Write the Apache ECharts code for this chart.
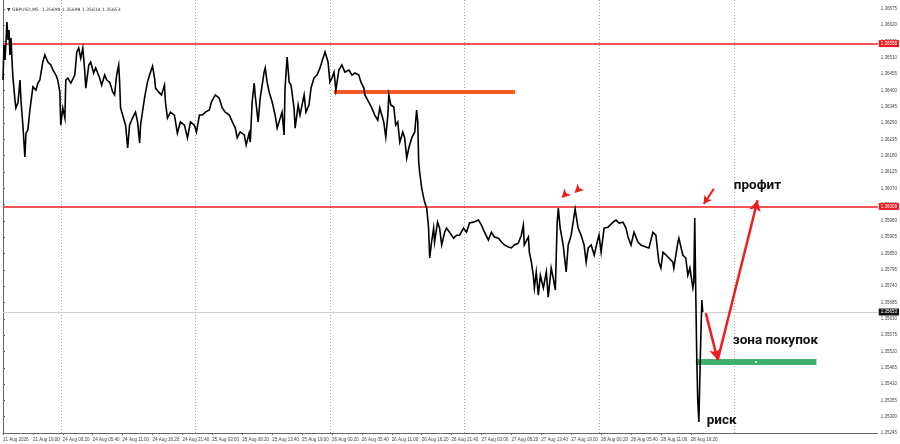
<!DOCTYPE html>
<html><head><meta charset="utf-8">
<script src="https://cdn.jsdelivr.net/npm/echarts@6/dist/echarts.min.js"></script>
<style>html,body{margin:0;padding:0;background:#fff}#c{width:900px;height:444px}</style>
</head><body><div id="c"></div>
<script>
// 20-minute bar index, counted from 21 Aug 13:40 (weekend skipped, as the terminal does)
const slotIdx = [0,0.5,1.1,2.1,2.7,3.2,3.7,4.3,4.8,5.3,6.4,6.9,8,9.1,9.6,10.7,11.7,12.3,13.3,14.4,16,17.6,18.7,19.7,21.3,22.4,24,25.6,26.7,28.3,29.3,30.4,30.9,32,33.1,33.6,34.7,36.3,37.3,38.4,39.5,40.5,41.6,42.7,43.7,44.3,45.9,46.9,48.5,49.6,51.7,52.8,54.4,55.5,57.1,58.7,59.7,60.8,61.9,62.4,62.9,64,65.6,66.7,67.7,69.3,70.9,72,73.1,73.6,75.7,77.3,78.4,80,81.1,81.6,83.2,84.8,86.4,86.9,88,89.6,91.7,93.3,94.9,97.1,98.7,100.3,102.4,103.5,105.1,106.7,108.3,110.4,111.5,113.6,115.7,117.3,118.9,121.1,122.7,124.3,125.3,126.9,129.1,130.1,131.7,132.3,133.3,134.4,134.9,136.5,137.6,139.7,140.3,141.3,142.4,144,145.6,146.7,147.7,149.3,150.4,150.9,152,153.1,154.1,155.7,156.3,157.9,158.9,161.1,162.1,163.7,164.8,166.4,168,169.6,171.2,172.3,173.9,174.9,176,177.1,178.1,179.7,181.3,182.9,185.1,186.7,188.3,190.4,191.5,193.1,193.6,195.7,197.3,198.9,200.5,201.6,203.7,204.8,205.9,206.4,207.5,209.1,210.1,211.2,212.3,213.9,214.9,216,217.1,218.7,220.3,221.3,221.9,222.4,222.9,224,225.1,225.6,226.7,227.7,228.3,229.3,230.4,230.9,232.5,233.6,234.7,236.3,237.3,238.9,241.1,242.7,244.3,246.4,248,249.6,251.7,254.4,256,257.6,259.7,261.3,262.9,265.1,266.7,268.3,270.4,272,273.6,275.7,277.3,278.4,278.9,281.1,281.6,282.7,283.7,284.3,285.3,286.4,287.5,289.1,290.7,291.7,293.3,294.4,295.5,296.5,297.1,298.1,299.7,300.3,301.3,302.4,304,305.6,306.1,307.7,309.3,310.9,312,313.1,314.7,316.3,317.9,318.9,320,321.6,323.7,326.4,328,329.6,331.7,333.3,334.4,336,337.6,339.7,341.3,344,345.6,347.7,349.3,350.9,352,353.1,354.7,356.3,358.4,358.9,361.1,361.6,363.7,365.3,366.4,367.5,369.1,369.6,370.1,370.7,371.2,371.7,372.3,372.8,373.3,373.9,374.4];
const prices = [1.36435,1.36553,1.36503,1.36631,1.36570,1.36604,1.36520,1.36577,1.36503,1.36445,1.36368,1.36341,1.36358,1.36435,1.36368,1.36277,1.36176,1.36256,1.36267,1.36334,1.36412,1.36401,1.36425,1.36435,1.36496,1.36520,1.36496,1.36486,1.36469,1.36452,1.36435,1.36395,1.36283,1.36341,1.36307,1.36435,1.36442,1.36425,1.36428,1.36452,1.36530,1.36543,1.36509,1.36543,1.36469,1.36408,1.36486,1.36496,1.36459,1.36476,1.36442,1.36418,1.36452,1.36435,1.36428,1.36395,1.36385,1.36452,1.36486,1.36428,1.36341,1.36317,1.36283,1.36206,1.36283,1.36307,1.36327,1.36294,1.36223,1.36283,1.36374,1.36428,1.36452,1.36482,1.36442,1.36408,1.36395,1.36385,1.36418,1.36361,1.36307,1.36327,1.36317,1.36256,1.36294,1.36283,1.36240,1.36294,1.36283,1.36260,1.36317,1.36317,1.36327,1.36334,1.36361,1.36385,1.36374,1.36341,1.36327,1.36317,1.36294,1.36273,1.36240,1.36260,1.36250,1.36216,1.36256,1.36226,1.36361,1.36425,1.36385,1.36294,1.36374,1.36462,1.36476,1.36428,1.36395,1.36361,1.36317,1.36273,1.36294,1.36327,1.36250,1.36408,1.36513,1.36428,1.36418,1.36341,1.36273,1.36351,1.36317,1.36385,1.36327,1.36351,1.36408,1.36442,1.36452,1.36476,1.36509,1.36530,1.36496,1.36428,1.36442,1.36462,1.36401,1.36469,1.36486,1.36462,1.36469,1.36452,1.36459,1.36452,1.36428,1.36408,1.36385,1.36361,1.36341,1.36317,1.36300,1.36341,1.36294,1.36243,1.36317,1.36385,1.36351,1.36344,1.36283,1.36294,1.36226,1.36260,1.36240,1.36172,1.36206,1.36240,1.36260,1.36334,1.36294,1.36159,1.36125,1.36071,1.36037,1.36024,1.36003,1.35936,1.35835,1.35889,1.35936,1.35889,1.35956,1.35936,1.35879,1.35922,1.35936,1.35922,1.35902,1.35912,1.35912,1.35936,1.35922,1.35953,1.35956,1.35963,1.35946,1.35922,1.35896,1.35922,1.35906,1.35902,1.35889,1.35879,1.35872,1.35869,1.35879,1.35885,1.35912,1.35946,1.35879,1.35906,1.35855,1.35821,1.35777,1.35734,1.35788,1.35710,1.35777,1.35734,1.35788,1.35703,1.35801,1.35767,1.35727,1.35956,1.36003,1.35936,1.35879,1.35845,1.35788,1.35879,1.35912,1.35980,1.36000,1.35936,1.35912,1.35879,1.35821,1.35869,1.35879,1.35845,1.35889,1.35912,1.35855,1.35936,1.35939,1.35956,1.35963,1.35953,1.35956,1.35936,1.35906,1.35879,1.35922,1.35889,1.35879,1.35872,1.35869,1.35922,1.35912,1.35821,1.35801,1.35855,1.35845,1.35835,1.35821,1.35801,1.35889,1.35902,1.35845,1.35835,1.35777,1.35801,1.35734,1.35754,1.35970,1.35693,1.35491,1.35356,1.35282,1.35423,1.35558,1.35693,1.35653];

const timeLabels = ["21 Aug 2026","21 Aug 19:00","24 Aug 00:20","24 Aug 05:40","24 Aug 11:00","24 Aug 16:20","24 Aug 21:40","25 Aug 03:00","25 Aug 08:20","25 Aug 13:40","25 Aug 19:00","26 Aug 00:20","26 Aug 05:40","26 Aug 11:00","26 Aug 16:20","26 Aug 21:40","27 Aug 03:00","27 Aug 08:20","27 Aug 13:40","27 Aug 19:00","28 Aug 00:20","28 Aug 05:40","28 Aug 11:00","28 Aug 16:20"];
const labelStep = 16;           // 5h20m in 20-minute bars
const daySeparators = [31, 103, 175, 247, 319, 391];   // 24..29 Aug 00:00
const priceMin = 1.35245, priceMax = 1.36705, priceStep = 0.00055;
const slotMax = 468;

const redLevels = [1.36558, 1.36009];
const bidPrice = 1.35653;
const headerText = "GBPUSD,M5  1.35698 1.35698 1.35614 1.35653";
const orangeLevel = [177, 274, 1.36396];     // from slot, to slot, price
const buyZone = [370.7, 435.2, 1.35484];
const vArrowPts = [[376, 1.35649], [382.4, 1.35491], [403.7, 1.36030]];
const pointerArrow = [[380.3, 1.36068], [374.9, 1.36017]];
const peakMarks = [[298.8, 1.36037], [305.8, 1.36054]];
const notes = [["профит", 391, 1.36078], ["зона покупок", 390.4, 1.35558], ["риск", 376.5, 1.35288]];

const RED = '#ee1c1c';
const tickSlots = timeLabels.map((_, i) => i * labelStep);
const axisFont = 'Liberation Sans';

function hLine(v, color, width, labelBg) {
  return [
    {coord: [0, v], symbol: 'none'},
    {coord: [slotMax, v], symbol: 'none', lineStyle: {color: color, width: width, type: 'solid'},
      label: {show: true, position: 'end', distance: 1, formatter: v.toFixed(5), backgroundColor: labelBg,
        color: '#fff', fontSize: 4.5, fontFamily: axisFont, padding: [1, 2, 1, 2]}}
  ];
}

const markLines = [];
daySeparators.forEach(s => markLines.push({
  xAxis: s, lineStyle: {color: '#a8a8a8', width: 1, type: [1, 2]}, label: {show: false}
}));
markLines.push(hLine(bidPrice, '#cfcfcf', 1, '#111'));
redLevels.forEach(v => markLines.push(hLine(v, RED, 1.5, RED)));
markLines.push([
  {coord: [orangeLevel[0], orangeLevel[2]], symbol: 'none'},
  {coord: [orangeLevel[1], orangeLevel[2]], symbol: 'none', lineStyle: {color: '#f15a22', width: 4, type: 'solid', cap: 'butt'}}
]);
markLines.push([
  {coord: [buyZone[0], buyZone[2]], symbol: 'none'},
  {coord: [buyZone[1], buyZone[2]], symbol: 'none', lineStyle: {color: '#3cb06c', width: 6, type: 'solid', cap: 'butt'}}
]);
markLines.push([
  {coord: vArrowPts[0], symbol: 'none'},
  {coord: vArrowPts[1], symbol: 'arrow', symbolSize: [9, 11], lineStyle: {color: RED, width: 2.5, type: 'solid'}}
]);
markLines.push([
  {coord: vArrowPts[1], symbol: 'none'},
  {coord: vArrowPts[2], symbol: 'arrow', symbolSize: [9, 11], lineStyle: {color: RED, width: 2.5, type: 'solid'}}
]);
markLines.push([
  {coord: pointerArrow[0], symbol: 'none'},
  {coord: pointerArrow[1], symbol: 'arrow', symbolSize: [7, 8], lineStyle: {color: RED, width: 2, type: 'solid'}}
]);

const markPoints = [];
peakMarks.forEach(p => markPoints.push({
  coord: p, symbol: 'arrow', symbolSize: [7, 9], symbolRotate: 135, itemStyle: {color: RED}, label: {show: false}
}));
markPoints.push({
  coord: [(buyZone[0] + buyZone[1]) / 2, buyZone[2]], symbol: 'circle', symbolSize: 2,
  itemStyle: {color: '#fff'}, label: {show: false}
});
notes.forEach(n => markPoints.push({
  coord: [n[1], n[2]], symbol: 'circle', symbolSize: 0,
  label: {show: true, formatter: n[0], position: 'right', distance: 0, fontSize: 13.5, fontWeight: 'bold',
    color: '#111', fontFamily: 'Roboto'}
}));

const chart = echarts.init(document.getElementById('c'), null, {renderer: 'canvas'});
chart.setOption({
  animation: false,
  backgroundColor: '#fff',
  title: {text: '▼ ' + headerText, left: 2, top: 2,
    textStyle: {fontSize: 4.5, color: '#333', fontWeight: 'normal', fontFamily: 'DejaVu Sans'}},
  grid: {left: 0, right: 22, top: 0, bottom: 11, containLabel: false},
  xAxis: {
    type: 'value', min: 0, max: slotMax, interval: labelStep,
    axisLine: {show: true, lineStyle: {color: '#666', width: 1}},
    axisTick: {show: true, length: 2, customValues: tickSlots, lineStyle: {color: '#666'}},
    axisLabel: {customValues: tickSlots, formatter: v => timeLabels[Math.round(v / labelStep)] || '',
      align: 'left', fontSize: 4.5, color: '#444', margin: 4, fontFamily: axisFont, hideOverlap: false},
    splitLine: {show: false}
  },
  yAxis: {
    type: 'value', position: 'right', min: priceMin, max: priceMax, interval: priceStep, scale: true,
    axisLine: {show: true, lineStyle: {color: '#666', width: 1}},
    axisTick: {show: true, length: 2, lineStyle: {color: '#666'}},
    axisLabel: {formatter: v => v.toFixed(5), fontSize: 4.5, color: '#444', margin: 3, fontFamily: axisFont,
      showMaxLabel: false, showMinLabel: true},
    splitLine: {show: false}
  },
  series: [{
    type: 'line', name: 'GBPUSD', symbol: 'none', silent: true, z: 3,
    data: slotIdx.map((s, i) => [s, prices[i]]),
    lineStyle: {color: '#000', width: 1.6, join: 'miter'},
    markLine: {silent: true, symbol: ['none', 'none'], label: {show: false}, animation: false, data: markLines, z: 2},
    markPoint: {silent: true, animation: false, data: markPoints, z: 5}
  }]
});
</script></body></html>
